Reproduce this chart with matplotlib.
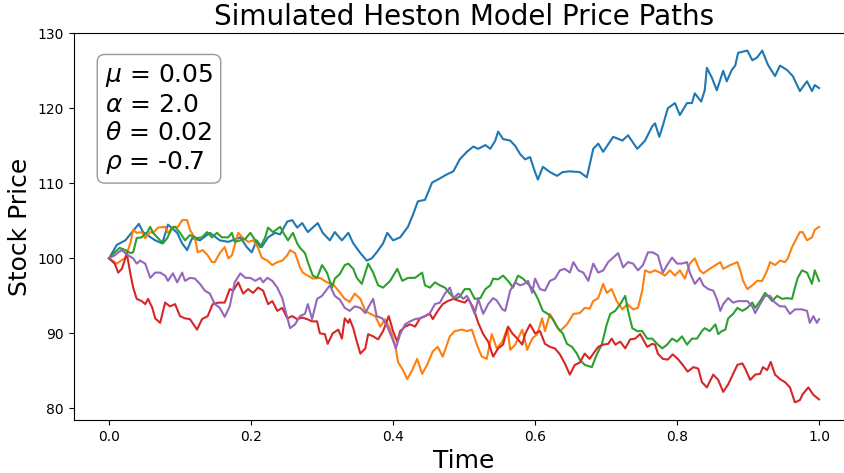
import matplotlib
matplotlib.use("Agg")
import matplotlib.pyplot as plt

# path values (time, price)
t_blue = [0.000, 0.011, 0.023, 0.042, 0.048, 0.065, 0.075, 0.083, 0.096, 0.103, 0.110, 0.117, 0.128,
          0.142, 0.156, 0.168, 0.185, 0.194, 0.201, 0.208, 0.215, 0.224, 0.234, 0.241, 0.251, 0.258,
          0.265, 0.272, 0.280, 0.294, 0.301, 0.311, 0.318, 0.328, 0.337, 0.344, 0.354, 0.363, 0.370,
          0.377, 0.386, 0.392, 0.400, 0.410, 0.421, 0.428, 0.435, 0.445, 0.455, 0.463, 0.476, 0.485,
          0.494, 0.504, 0.513, 0.520, 0.530, 0.537, 0.544, 0.548, 0.555, 0.565, 0.572, 0.579, 0.586,
          0.593, 0.600, 0.604, 0.611, 0.621, 0.631, 0.639, 0.649, 0.663, 0.673, 0.682, 0.689, 0.696,
          0.710, 0.723, 0.731, 0.744, 0.755, 0.765, 0.769, 0.775, 0.780, 0.787, 0.797, 0.804, 0.814,
          0.821, 0.825, 0.834, 0.839, 0.842, 0.849, 0.856, 0.865, 0.870, 0.877, 0.882, 0.886, 0.899,
          0.906, 0.913, 0.920, 0.928, 0.938, 0.945, 0.955, 0.963, 0.973, 0.983, 0.990, 0.994, 1.000]
p_blue = [100.0, 101.8, 102.4, 104.6, 103.5, 102.4, 102.0, 104.5, 103.4, 102.0, 101.1, 102.7, 102.4,
          103.4, 102.4, 102.2, 102.8, 101.5, 100.8, 102.4, 101.5, 102.8, 103.4, 103.2, 104.9, 105.1,
          104.1, 104.7, 103.5, 104.7, 103.4, 102.4, 103.5, 102.4, 103.4, 102.0, 100.7, 99.7, 100.0,
          100.8, 102.0, 103.4, 102.4, 102.8, 104.2, 105.8, 107.6, 107.8, 110.1, 110.5, 111.2, 111.6,
          113.2, 114.2, 114.9, 114.6, 115.1, 114.6, 115.7, 116.9, 115.9, 115.7, 115.0, 113.9, 113.2,
          113.5, 111.5, 110.5, 112.2, 111.5, 111.0, 111.5, 111.6, 111.5, 110.8, 114.6, 115.3, 114.2,
          116.2, 115.7, 116.4, 114.6, 115.7, 117.6, 118.0, 116.2, 117.7, 120.0, 120.7, 119.1, 120.7,
          120.7, 122.0, 120.9, 122.4, 125.4, 124.1, 122.4, 125.0, 123.6, 125.1, 125.7, 127.4, 127.7,
          126.4, 126.8, 127.7, 125.8, 124.3, 125.7, 125.1, 124.3, 122.3, 123.6, 122.3, 123.1, 122.7]

t_orange = [0.000, 0.011, 0.023, 0.030, 0.034, 0.039, 0.046, 0.051, 0.058, 0.062, 0.069, 0.079, 0.083,
            0.090, 0.097, 0.103, 0.110, 0.114, 0.121, 0.125, 0.132, 0.139, 0.145, 0.149, 0.156, 0.163,
            0.168, 0.173, 0.182, 0.189, 0.196, 0.203, 0.210, 0.215, 0.223, 0.230, 0.237, 0.244, 0.251,
            0.255, 0.262, 0.269, 0.273, 0.280, 0.287, 0.297, 0.307, 0.315, 0.323, 0.332, 0.339, 0.346,
            0.354, 0.361, 0.368, 0.375, 0.382, 0.389, 0.396, 0.403, 0.407, 0.414, 0.420, 0.427, 0.434,
            0.441, 0.448, 0.456, 0.463, 0.470, 0.480, 0.487, 0.497, 0.504, 0.511, 0.518, 0.525, 0.532,
            0.539, 0.546, 0.554, 0.561, 0.565, 0.572, 0.582, 0.589, 0.596, 0.603, 0.610, 0.614, 0.621,
            0.628, 0.635, 0.645, 0.654, 0.663, 0.670, 0.677, 0.682, 0.689, 0.696, 0.701, 0.708, 0.715,
            0.723, 0.730, 0.738, 0.745, 0.751, 0.755, 0.762, 0.769, 0.776, 0.783, 0.790, 0.797, 0.804,
            0.811, 0.818, 0.825, 0.832, 0.837, 0.846, 0.861, 0.865, 0.875, 0.885, 0.889, 0.893, 0.899,
            0.906, 0.913, 0.920, 0.927, 0.931, 0.938, 0.945, 0.952, 0.956, 0.962, 0.969, 0.973, 0.977,
            0.983, 0.990, 0.994, 1.000]
p_orange = [100.0, 99.3, 100.1, 102.0, 103.8, 103.4, 103.5, 102.7, 103.5, 103.4, 104.1, 104.2, 103.4,
            104.2, 104.2, 105.1, 105.1, 103.8, 102.7, 100.8, 101.1, 100.4, 99.5, 99.5, 100.7, 101.5,
            100.0, 100.4, 103.4, 102.7, 102.2, 102.4, 101.4, 100.1, 99.7, 99.1, 99.5, 99.7, 100.4,
            101.1, 100.7, 98.8, 98.1, 97.7, 97.3, 97.4, 96.8, 96.6, 95.7, 94.6, 94.2, 95.3,
            94.6, 93.0, 92.6, 92.3, 90.9, 91.9, 90.5, 88.5, 86.2, 85.1, 83.9, 85.1, 86.6,
            84.6, 85.8, 87.6, 88.2, 86.9, 89.6, 90.3, 90.5, 90.3, 90.5, 88.5, 86.9, 86.6,
            89.9, 88.0, 88.9, 90.7, 87.8, 88.5, 90.5, 87.8, 89.3, 89.9, 92.0, 90.3, 92.6,
            91.4, 90.3, 91.2, 92.6, 92.7, 93.4, 93.3, 94.3, 94.7, 96.6, 95.4, 95.9, 94.3,
            93.2, 93.9, 93.2, 93.4, 95.7, 98.4, 98.1, 98.4, 98.1, 97.7, 98.4, 97.7, 98.4,
            97.3, 99.3, 100.0, 98.4, 98.0, 98.6, 99.5, 98.6, 99.1, 99.5, 98.4, 97.0, 95.9,
            96.4, 97.0, 97.0, 98.4, 99.5, 99.1, 99.7, 99.5, 100.0, 101.5, 102.8, 103.5, 103.5,
            102.4, 102.8, 103.8, 104.2]

t_green = [0.000, 0.008, 0.015, 0.023, 0.030, 0.034, 0.039, 0.046, 0.054, 0.058, 0.062, 0.069, 0.076,
           0.082, 0.089, 0.093, 0.100, 0.107, 0.114, 0.124, 0.131, 0.138, 0.145, 0.152, 0.159, 0.168,
           0.173, 0.177, 0.185, 0.192, 0.199, 0.206, 0.213, 0.220, 0.224, 0.231, 0.241, 0.245, 0.252,
           0.259, 0.265, 0.269, 0.276, 0.280, 0.287, 0.293, 0.300, 0.307, 0.314, 0.318, 0.325, 0.332,
           0.337, 0.344, 0.349, 0.356, 0.365, 0.372, 0.379, 0.386, 0.396, 0.406, 0.413, 0.421, 0.431,
           0.441, 0.445, 0.452, 0.459, 0.466, 0.473, 0.480, 0.487, 0.494, 0.501, 0.508, 0.515, 0.523,
           0.530, 0.537, 0.541, 0.548, 0.555, 0.562, 0.569, 0.576, 0.583, 0.590, 0.597, 0.604, 0.611,
           0.618, 0.625, 0.632, 0.639, 0.645, 0.652, 0.659, 0.663, 0.670, 0.680, 0.687, 0.694, 0.701,
           0.706, 0.713, 0.720, 0.727, 0.731, 0.737, 0.744, 0.751, 0.758, 0.765, 0.772, 0.779, 0.786,
           0.793, 0.800, 0.807, 0.814, 0.821, 0.828, 0.835, 0.839, 0.846, 0.854, 0.858, 0.863, 0.868,
           0.872, 0.879, 0.885, 0.892, 0.899, 0.906, 0.910, 0.917, 0.924, 0.928, 0.934, 0.941, 0.948,
           0.955, 0.962, 0.966, 0.970, 0.976, 0.983, 0.990, 0.994, 1.000]
p_green = [100.0, 100.8, 101.4, 101.1, 100.7, 100.8, 102.7, 102.8, 103.5, 104.2, 103.4, 102.7, 102.0,
           102.7, 104.1, 104.2, 103.4, 102.4, 103.1, 102.7, 102.8, 103.5, 102.8, 103.4, 102.8, 102.8,
           103.4, 102.2, 102.4, 102.6, 103.4, 102.4, 101.5, 102.8, 104.1, 103.5, 104.2, 103.5, 102.4,
           103.4, 102.0, 101.4, 100.7, 99.5, 97.7, 97.4, 99.1, 98.1, 96.1, 97.3, 97.9, 99.1,
           99.3, 98.6, 97.4, 96.6, 99.3, 98.1, 96.4, 96.1, 97.0, 98.6, 97.0, 97.4, 97.4,
           98.1, 96.4, 96.1, 96.8, 96.4, 96.1, 95.3, 94.6, 94.9, 95.9, 95.9, 94.6, 94.7,
           95.9, 96.4, 97.3, 97.2, 97.7, 97.0, 96.1, 97.7, 97.3, 96.6, 95.9, 94.6, 93.0,
           92.6, 91.9, 90.7, 90.0, 88.6, 88.2, 87.3, 86.5, 85.8, 85.5, 87.2, 88.5, 91.2,
           92.6, 93.0, 93.9, 95.0, 93.0, 90.7, 90.3, 90.3, 89.3, 89.3, 88.6, 88.0, 88.5,
           89.3, 88.9, 89.6, 88.5, 89.3, 89.3, 90.3, 90.7, 90.3, 91.2, 89.9, 90.3, 90.5,
           92.0, 92.6, 93.4, 93.0, 93.4, 94.1, 93.4, 94.3, 95.4, 95.0, 94.3, 95.0, 94.6,
           94.7, 94.6, 96.1, 97.4, 98.4, 98.1, 96.6, 98.4, 97.0]

t_red = [0.000, 0.008, 0.013, 0.018, 0.023, 0.025, 0.030, 0.034, 0.039, 0.046, 0.051, 0.055, 0.061,
         0.065, 0.072, 0.079, 0.086, 0.093, 0.100, 0.107, 0.114, 0.124, 0.131, 0.139, 0.146, 0.154,
         0.163, 0.170, 0.175, 0.182, 0.189, 0.196, 0.203, 0.210, 0.217, 0.224, 0.230, 0.237, 0.244,
         0.251, 0.258, 0.265, 0.272, 0.279, 0.286, 0.293, 0.297, 0.304, 0.308, 0.315, 0.323, 0.328,
         0.332, 0.337, 0.339, 0.344, 0.349, 0.354, 0.361, 0.365, 0.372, 0.379, 0.386, 0.394, 0.400,
         0.406, 0.410, 0.417, 0.424, 0.431, 0.438, 0.445, 0.452, 0.456, 0.463, 0.470, 0.477, 0.485,
         0.494, 0.501, 0.506, 0.513, 0.520, 0.527, 0.534, 0.541, 0.548, 0.555, 0.562, 0.568, 0.575,
         0.582, 0.586, 0.593, 0.600, 0.607, 0.614, 0.621, 0.628, 0.635, 0.642, 0.649, 0.656, 0.663,
         0.670, 0.677, 0.682, 0.689, 0.696, 0.703, 0.708, 0.713, 0.720, 0.727, 0.734, 0.741, 0.748,
         0.758, 0.765, 0.769, 0.773, 0.780, 0.787, 0.794, 0.801, 0.808, 0.815, 0.823, 0.830, 0.835,
         0.842, 0.851, 0.858, 0.865, 0.872, 0.877, 0.885, 0.892, 0.896, 0.903, 0.910, 0.917, 0.921,
         0.927, 0.932, 0.938, 0.945, 0.952, 0.959, 0.966, 0.973, 0.977, 0.985, 0.992, 1.000]
p_red = [100.0, 99.3, 98.1, 98.6, 100.0, 100.7, 98.0, 96.1, 94.6, 94.3, 93.9, 94.6, 93.4,
         92.0, 91.4, 94.1, 93.6, 93.9, 92.3, 92.0, 91.9, 90.5, 91.9, 92.3, 93.9, 94.1,
         94.1, 95.9, 95.7, 96.8, 95.3, 95.9, 95.4, 96.1, 95.7, 93.9, 94.3, 93.0, 93.4,
         92.0, 92.3, 91.9, 92.1, 91.9, 91.6, 91.6, 90.0, 89.9, 88.6, 90.0, 90.5, 89.3,
         92.0, 91.4, 91.9, 90.7, 88.9, 87.3, 88.0, 89.9, 89.6, 89.2, 90.3, 92.3, 90.3,
         88.9, 90.3, 90.9, 91.2, 90.9, 92.0, 92.3, 92.6, 91.9, 93.0, 93.9, 94.3, 94.6,
         94.3, 94.1, 94.6, 93.4, 91.4, 89.9, 88.9, 86.9, 88.0, 88.5, 90.9, 90.0, 89.3,
         88.5, 89.9, 91.2, 90.0, 90.3, 88.6, 88.2, 88.0, 87.2, 86.0, 84.5, 85.8, 86.1,
         87.3, 86.6, 87.3, 88.2, 88.5, 88.6, 89.3, 88.5, 88.9, 88.0, 89.2, 89.3, 89.9,
         88.2, 88.6, 88.5, 87.3, 86.6, 86.5, 87.2, 86.6, 85.8, 84.9, 85.5, 85.3, 83.5,
         82.8, 84.5, 83.8, 82.2, 83.2, 84.2, 85.8, 86.0, 85.3, 83.8, 84.5, 84.6, 85.5,
         85.1, 86.2, 84.5, 83.9, 83.5, 82.8, 80.8, 81.1, 81.9, 82.8, 81.8, 81.2]

t_purple = [0.000, 0.008, 0.013, 0.018, 0.023, 0.027, 0.034, 0.039, 0.044, 0.051, 0.058, 0.065, 0.072,
            0.079, 0.083, 0.090, 0.096, 0.103, 0.107, 0.114, 0.121, 0.128, 0.135, 0.142, 0.149, 0.156,
            0.163, 0.170, 0.177, 0.185, 0.192, 0.199, 0.206, 0.213, 0.217, 0.223, 0.230, 0.237, 0.244,
            0.248, 0.255, 0.262, 0.269, 0.276, 0.280, 0.286, 0.293, 0.300, 0.307, 0.311, 0.318, 0.325,
            0.332, 0.339, 0.346, 0.354, 0.361, 0.366, 0.372, 0.377, 0.385, 0.392, 0.399, 0.404, 0.410,
            0.417, 0.424, 0.431, 0.438, 0.445, 0.452, 0.459, 0.466, 0.473, 0.480, 0.485, 0.492, 0.499,
            0.504, 0.508, 0.515, 0.520, 0.527, 0.534, 0.541, 0.546, 0.554, 0.558, 0.565, 0.572, 0.579,
            0.585, 0.590, 0.596, 0.600, 0.607, 0.614, 0.621, 0.628, 0.635, 0.642, 0.649, 0.654, 0.661,
            0.668, 0.675, 0.682, 0.689, 0.696, 0.703, 0.710, 0.717, 0.724, 0.731, 0.738, 0.745, 0.752,
            0.759, 0.766, 0.773, 0.780, 0.786, 0.793, 0.800, 0.807, 0.814, 0.818, 0.825, 0.832, 0.837,
            0.844, 0.851, 0.856, 0.861, 0.865, 0.872, 0.879, 0.886, 0.892, 0.899, 0.906, 0.910, 0.917,
            0.924, 0.931, 0.938, 0.945, 0.952, 0.959, 0.966, 0.976, 0.983, 0.987, 0.992, 0.997, 1.000]
p_purple = [100.0, 100.4, 100.8, 101.1, 100.7, 100.4, 100.0, 99.3, 99.7, 99.3, 97.4, 98.1, 98.1,
            97.7, 97.0, 98.0, 96.8, 98.1, 97.0, 97.4, 97.3, 96.6, 95.7, 95.3, 93.9, 93.4,
            92.2, 93.6, 96.8, 98.0, 97.4, 97.4, 97.0, 97.4, 96.8, 97.4, 97.0, 96.1, 94.7,
            93.2, 90.7, 91.2, 92.3, 92.6, 93.9, 91.9, 94.6, 95.0, 95.9, 96.4, 95.0, 94.5,
            93.4, 93.0, 93.6, 93.4, 92.7, 93.6, 94.6, 92.3, 92.0, 90.9, 89.3, 88.0, 89.9,
            91.2, 91.6, 91.9, 92.0, 92.3, 92.7, 93.9, 94.1, 95.3, 96.1, 94.7, 95.3, 94.6,
            95.0, 94.3, 92.6, 94.6, 92.6, 93.9, 94.7, 94.4, 93.2, 93.0, 95.7, 96.8, 96.4,
            96.6, 97.0, 95.4, 97.3, 95.9, 95.7, 97.0, 97.3, 98.4, 98.6, 98.1, 99.5, 98.4,
            98.1, 97.0, 99.3, 98.1, 98.4, 99.5, 100.1, 100.7, 98.8, 99.5, 99.3, 98.4, 99.1,
            100.8, 100.8, 100.4, 98.1, 99.1, 100.1, 99.3, 99.3, 99.5, 98.1, 96.6, 97.4, 96.4,
            95.9, 95.7, 94.6, 93.0, 93.9, 94.7, 94.1, 94.3, 94.3, 94.3, 93.6, 92.7, 93.9,
            95.0, 95.0, 94.1, 93.6, 93.6, 92.6, 93.2, 93.2, 93.0, 91.4, 92.3, 91.4, 91.9]

param_text = "\n".join([
    r"$\mu$ = 0.05",
    r"$\alpha$ = 2.0",
    r"$\theta$ = 0.02",
    r"$\rho$ = -0.7",
])

fig = plt.figure(figsize=(8.44, 4.73), dpi=100)
ax = fig.add_axes([0.0871, 0.1121, 0.9254, 0.8182])

for t, p in [(t_blue, p_blue), (t_orange, p_orange), (t_green, p_green),
             (t_red, p_red), (t_purple, p_purple)]:
    ax.plot(t, p, lw=1.5)

ax.set_title("Simulated Heston Model Price Paths", fontsize=20)
ax.set_xlabel("Time", fontsize=18)
ax.set_ylabel("Stock Price", fontsize=18)
ax.text(0.04, 0.925, param_text, transform=ax.transAxes, fontsize=18,
        verticalalignment="top",
        bbox=dict(boxstyle="round", facecolor="white", edgecolor="gray", alpha=0.8))

fig.savefig("out.png", dpi=100)
